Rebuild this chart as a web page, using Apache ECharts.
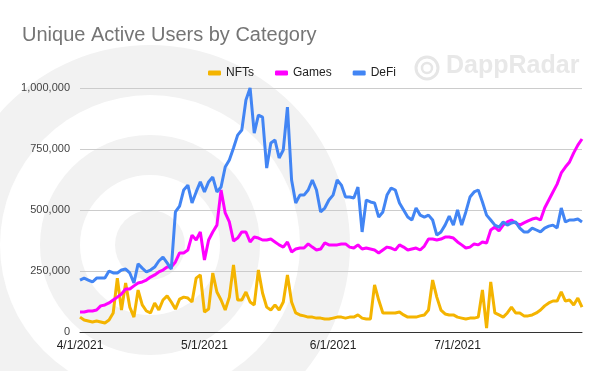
<!DOCTYPE html>
<html>
<head>
<meta charset="utf-8">
<script src="https://cdn.jsdelivr.net/npm/echarts@6/dist/echarts.min.js"></script>
<style>html,body{margin:0;padding:0;background:#fff}#c{width:600px;height:371px}</style>
</head>
<body>
<div id="c"></div>
<script>
// Dates: 4/1/2021 .. 7/31/2021 (daily)
const startDate = [2021, 4, 1];
const dayCount = 122;
const tickLabels = ['4/1/2021', '5/1/2021', '6/1/2021', '7/1/2021'];

const nfts = [61,49,45,41,45,41,37,49,78,221,90,201,102,61,172,111,86,78,119,90,131,148,123,94,135,143,139,123,221,234,
  82,94,242,164,131,90,143,275,131,131,164,123,111,254,160,102,90,111,90,123,234,123,78,70,66,61,61,57,57,53,53,
  57,61,61,57,61,61,70,57,53,53,193,131,78,78,78,78,82,70,61,61,61,66,70,90,213,143,90,74,70,70,
  61,57,53,57,57,61,172,16,205,78,70,61,78,102,78,78,66,66,70,78,90,107,119,127,127,164,127,131,111,139,102];
const games = [82,82,86,86,90,107,111,119,131,143,156,176,176,189,201,205,213,225,234,246,254,266,266,287,324,324,336,397,377,410,
  295,377,410,438,582,488,451,373,385,410,410,369,389,385,377,377,381,369,357,348,369,328,340,344,344,361,348,336,340,365,357,
  357,357,361,361,348,344,357,340,344,340,336,324,336,348,344,336,357,348,336,340,344,336,352,381,381,377,381,389,389,385,
  369,357,344,348,361,357,369,365,418,430,414,438,451,459,447,438,447,455,463,467,459,508,541,574,606,652,676,697,734,766,791];
const defi = [213,221,213,205,221,221,221,250,242,242,254,258,242,201,279,262,246,254,266,291,307,283,258,492,516,582,602,529,574,615,
  574,615,635,574,594,676,705,754,807,828,951,1000,815,889,881,672,775,787,713,746,922,623,529,561,561,582,623,582,492,508,541,
  561,623,602,553,553,549,594,410,541,533,529,471,492,561,590,582,529,500,471,459,508,479,471,479,459,397,410,438,475,438,
  500,438,492,553,574,582,533,479,459,438,430,451,438,447,451,426,410,410,426,418,410,426,434,438,426,508,451,459,459,463,451];

const categories = [];
for (let i = 0; i < dayCount; i++) {
  const d = new Date(Date.UTC(startDate[0], startDate[1] - 1, startDate[2] + i));
  categories.push((d.getUTCMonth() + 1) + '/' + d.getUTCDate() + '/' + d.getUTCFullYear());
}
const tickIdx = tickLabels.map(t => categories.indexOf(t));
const k = v => v * 1000;

const chart = echarts.init(document.getElementById('c'), null, {renderer: 'canvas'});
const wm = '#f2f2f2';
chart.setOption({
  backgroundColor: '#ffffff',
  animation: false,
  title: {
    text: 'Unique Active Users by Category',
    left: 17, top: 20,
    textStyle: {fontFamily: 'Arial, Liberation Sans, sans-serif', fontSize: 20, fontWeight: 'normal', color: '#757575'}
  },
  legend: {
    data: ['NFTs', 'Games', 'DeFi'],
    top: 62, left: 203,
    itemWidth: 13, itemHeight: 5, itemGap: 21,
    icon: 'roundRect',
    textStyle: {fontFamily: 'Arial, Liberation Sans, sans-serif', fontSize: 12, color: '#222'}
  },
  graphic: [
    {type: 'circle', z: -10, silent: true, shape: {cx: 150, cy: 245, r: 200}, style: {fill: wm}},
    {type: 'circle', z: -9, silent: true, shape: {cx: 150, cy: 245, r: 150}, style: {fill: '#ffffff'}},
    {type: 'circle', z: -8, silent: true, shape: {cx: 150, cy: 245, r: 110}, style: {fill: wm}},
    {type: 'circle', z: -7, silent: true, shape: {cx: 150, cy: 245, r: 70}, style: {fill: '#ffffff'}},
    {type: 'circle', z: -6, silent: true, shape: {cx: 150, cy: 245, r: 35}, style: {fill: wm}},
    {type: 'circle', z: 1, silent: true, shape: {cx: 427, cy: 68, r: 11}, style: {fill: 'none', stroke: '#e6e6e6', lineWidth: 3}},
    {type: 'circle', z: 1, silent: true, shape: {cx: 427, cy: 68, r: 5}, style: {fill: 'none', stroke: '#e6e6e6', lineWidth: 2.5}},
    {type: 'text', z: 1, silent: true, left: 446, top: 54,
      style: {text: 'DappRadar', fontFamily: 'Arial, Liberation Sans, sans-serif', fontSize: 25, fontWeight: 'bold', fill: '#e8e8e8'}}
  ],
  grid: {left: 80, right: 18, top: 88, bottom: 39, containLabel: false},
  xAxis: {
    type: 'category',
    data: categories,
    boundaryGap: false,
    axisLine: {show: true, lineStyle: {color: '#333', width: 1}},
    axisTick: {show: false},
    axisLabel: {
      interval: idx => tickIdx.indexOf(idx) >= 0,
      fontFamily: 'Arial, Liberation Sans, sans-serif', fontSize: 12, color: '#222', margin: 8
    },
    splitLine: {show: false}
  },
  yAxis: {
    type: 'value',
    min: 0, max: 1000000, interval: 250000,
    axisLine: {show: false},
    axisTick: {show: false},
    axisLabel: {
      formatter: v => v.toLocaleString('en-US'),
      fontFamily: 'Arial, Liberation Sans, sans-serif', fontSize: 11, color: '#444', margin: 10
    },
    splitLine: {lineStyle: {color: '#cccccc', width: 1}}
  },
  series: [
    {name: 'NFTs', type: 'line', data: nfts.map(k), showSymbol: false, z: 3,
      lineStyle: {width: 3, color: '#f4b400'}, itemStyle: {color: '#f4b400'}},
    {name: 'Games', type: 'line', data: games.map(k), showSymbol: false, z: 4,
      lineStyle: {width: 3, color: '#ff00ff'}, itemStyle: {color: '#ff00ff'}},
    {name: 'DeFi', type: 'line', data: defi.map(k), showSymbol: false, z: 5,
      lineStyle: {width: 3, color: '#4285f4'}, itemStyle: {color: '#4285f4'}}
  ]
});
</script>
</body>
</html>
